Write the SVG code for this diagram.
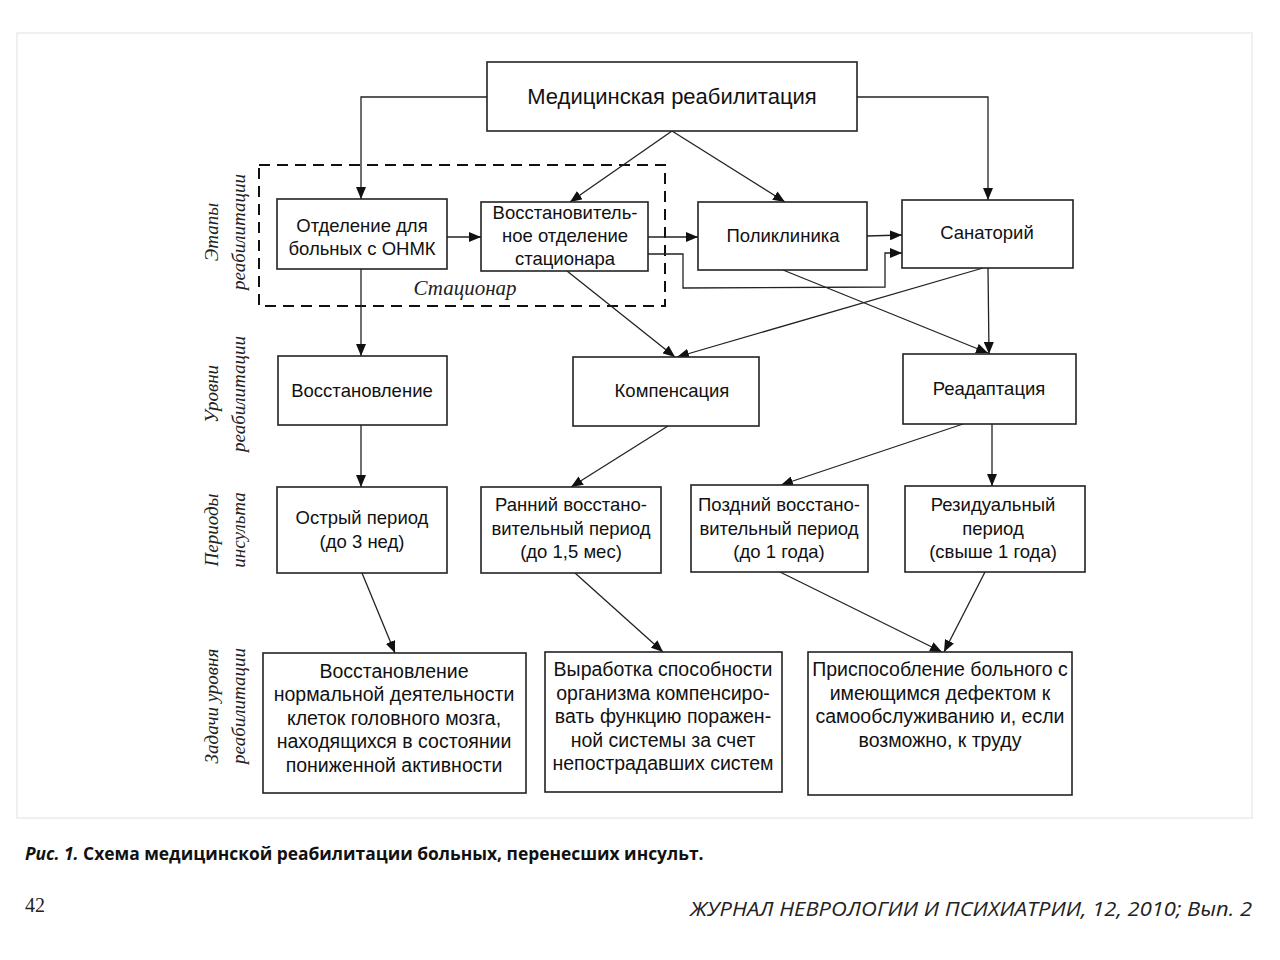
<svg xmlns="http://www.w3.org/2000/svg" width="1280" height="960" viewBox="0 0 1280 960">
<defs>
<marker id="ah" viewBox="0 0 12 10" refX="12" refY="5" markerWidth="12" markerHeight="10" markerUnits="userSpaceOnUse" orient="auto">
<path d="M0,0 L12,5 L0,10 z" fill="#111"/>
</marker>
<style>
.box{fill:#fff;stroke:#222;stroke-width:1.6}
.t{font-family:"Liberation Sans",Arial,sans-serif;font-size:18.5px;fill:#111;text-anchor:middle}
.tt{font-family:"Liberation Sans",Arial,sans-serif;font-size:19.5px;fill:#111;text-anchor:middle}
.side{font-family:"Liberation Serif","Times New Roman",serif;font-style:italic;font-size:19px;fill:#222;text-anchor:middle}
.c{fill:none;stroke:#222;stroke-width:1.3}
.ca{fill:none;stroke:#222;stroke-width:1.3;marker-end:url(#ah)}
</style>
</defs>
<rect width="1280" height="960" fill="#fff"/>
<rect x="17" y="33" width="1235" height="785" fill="none" stroke="#ececec" stroke-width="1.5"/>

<g id="side-labels">
<text class="side" transform="translate(218,232) rotate(-90)">Этапы</text>
<text class="side" transform="translate(245,232) rotate(-90)">реабилитации</text>
<text class="side" transform="translate(218,394) rotate(-90)">Уровни</text>
<text class="side" transform="translate(245,394) rotate(-90)">реабилитации</text>
<text class="side" transform="translate(218,530) rotate(-90)">Периоды</text>
<text class="side" transform="translate(245,530) rotate(-90)">инсульта</text>
<text class="side" transform="translate(218,706) rotate(-90)">Задачи уровня</text>
<text class="side" transform="translate(245,706) rotate(-90)">реабилитации</text>
</g>

<g id="stacionar">
<rect x="259" y="165" width="406" height="141" fill="none" stroke="#111" stroke-width="2" stroke-dasharray="11,7"/>
<text x="465" y="295" class="side" style="font-size:21px">Стационар</text>
</g>

<g id="connectors">
<polyline class="ca" points="487,97 361,97 361,199"/>
<polyline class="ca" points="857,97 988,97 988,200"/>
<line class="ca" x1="672" y1="131" x2="570" y2="202"/>
<line class="ca" x1="672" y1="131" x2="785" y2="202"/>
<line class="ca" x1="447" y1="237" x2="481" y2="237"/>
<line class="ca" x1="648" y1="237" x2="698" y2="237"/>
<line class="ca" x1="867" y1="236" x2="902" y2="235"/>
<polyline class="ca" points="648,254 683,254 683,288 885,287 885,253 902,253"/>
<line class="ca" x1="361" y1="269" x2="361" y2="356"/>
<line class="ca" x1="567" y1="271" x2="675" y2="357"/>
<line class="ca" x1="983" y1="268" x2="677" y2="357"/>
<line class="ca" x1="783" y1="270" x2="988" y2="353"/>
<line class="ca" x1="988" y1="268" x2="989" y2="354"/>
<line class="ca" x1="361" y1="425" x2="361" y2="487"/>
<line class="ca" x1="668" y1="426" x2="571" y2="487"/>
<line class="ca" x1="963" y1="424" x2="781" y2="485"/>
<line class="ca" x1="992" y1="424" x2="992" y2="486"/>
<line class="ca" x1="362" y1="573" x2="395" y2="653"/>
<line class="ca" x1="575" y1="573" x2="663" y2="652"/>
<line class="ca" x1="780" y1="572" x2="942" y2="652"/>
<line class="ca" x1="985" y1="572" x2="944" y2="652"/>
</g>

<g id="n-med">
<rect class="box" x="487" y="62" width="370" height="69"/>
<text x="672" y="104" class="t" style="font-size:22px">Медицинская реабилитация</text>
</g>
<g id="n-otdel">
<rect class="box" x="277" y="199" width="170" height="70"/>
<text x="362" y="232" class="t">Отделение для</text>
<text x="362" y="255" class="t">больных с ОНМК</text>
</g>
<g id="n-vosst-otdel">
<rect class="box" x="481" y="202" width="167" height="69"/>
<text x="565" y="219" class="t">Восстановитель-</text>
<text x="565" y="242" class="t">ное отделение</text>
<text x="565" y="265" class="t">стационара</text>
</g>
<g id="n-poliklinika">
<rect class="box" x="698" y="202" width="169" height="68"/>
<text x="783" y="242" class="t">Поликлиника</text>
</g>
<g id="n-sanatoriy">
<rect class="box" x="902" y="200" width="171" height="68"/>
<text x="987" y="239" class="t">Санаторий</text>
</g>
<g id="n-vosstanovlenie">
<rect class="box" x="278" y="356" width="169" height="69"/>
<text x="362" y="397" class="t">Восстановление</text>
</g>
<g id="n-kompensaciya">
<rect class="box" x="573" y="357" width="186" height="69"/>
<text x="672" y="397" class="t">Компенсация</text>
</g>
<g id="n-readaptaciya">
<rect class="box" x="903" y="354" width="173" height="70"/>
<text x="989" y="395" class="t">Реадаптация</text>
</g>
<g id="n-ostryi">
<rect class="box" x="277" y="487" width="170" height="86"/>
<text x="362" y="524" class="t">Острый период</text>
<text x="362" y="548" class="t">(до 3 нед)</text>
</g>
<g id="n-ranniy">
<rect class="box" x="481" y="487" width="180" height="86"/>
<text x="571" y="511" class="t">Ранний восстано-</text>
<text x="571" y="535" class="t">вительный период</text>
<text x="571" y="558" class="t">(до 1,5 мес)</text>
</g>
<g id="n-pozdniy">
<rect class="box" x="691" y="485" width="177" height="87"/>
<text x="779" y="511" class="t">Поздний восстано-</text>
<text x="779" y="535" class="t">вительный период</text>
<text x="779" y="558" class="t">(до 1 года)</text>
</g>
<g id="n-rezidual">
<rect class="box" x="905" y="486" width="180" height="86"/>
<text x="993" y="511" class="t">Резидуальный</text>
<text x="993" y="535" class="t">период</text>
<text x="993" y="558" class="t">(свыше 1 года)</text>
</g>
<g id="n-task1">
<rect class="box" x="263" y="653" width="263" height="140"/>
<text x="394" y="678" class="tt">Восстановление</text>
<text x="394" y="701" class="tt">нормальной деятельности</text>
<text x="394" y="725" class="tt">клеток головного мозга,</text>
<text x="394" y="748" class="tt">находящихся в состоянии</text>
<text x="394" y="772" class="tt">пониженной активности</text>
</g>
<g id="n-task2">
<rect class="box" x="545" y="652" width="237" height="140"/>
<text x="663" y="676" class="tt">Выработка способности</text>
<text x="663" y="700" class="tt">организма компенсиро-</text>
<text x="663" y="723" class="tt">вать функцию поражен-</text>
<text x="663" y="747" class="tt">ной системы за счет</text>
<text x="663" y="770" class="tt">непострадавших систем</text>
</g>
<g id="n-task3">
<rect class="box" x="808" y="652" width="264" height="143"/>
<text x="940" y="676" class="tt">Приспособление больного с</text>
<text x="940" y="700" class="tt">имеющимся дефектом к</text>
<text x="940" y="723" class="tt">самообслуживанию и, если</text>
<text x="940" y="747" class="tt">возможно, к труду</text>
</g>

<g id="caption">
<text x="25" y="860" style="font-family:'Open Sans','Liberation Sans',sans-serif;font-weight:bold;font-size:17.4px;fill:#111"><tspan font-style="italic">Рис. 1.</tspan> Схема медицинской реабилитации больных, перенесших инсульт.</text>
<text x="25" y="912" style="font-family:'Liberation Serif',serif;font-size:20px;fill:#222">42</text>
<text x="690" y="916" textLength="562" lengthAdjust="spacingAndGlyphs" style="font-family:'Open Sans','Liberation Sans',sans-serif;font-style:italic;font-size:20px;fill:#222">ЖУРНАЛ НЕВРОЛОГИИ И ПСИХИАТРИИ, 12, 2010; Вып. 2</text>
</g>
</svg>
